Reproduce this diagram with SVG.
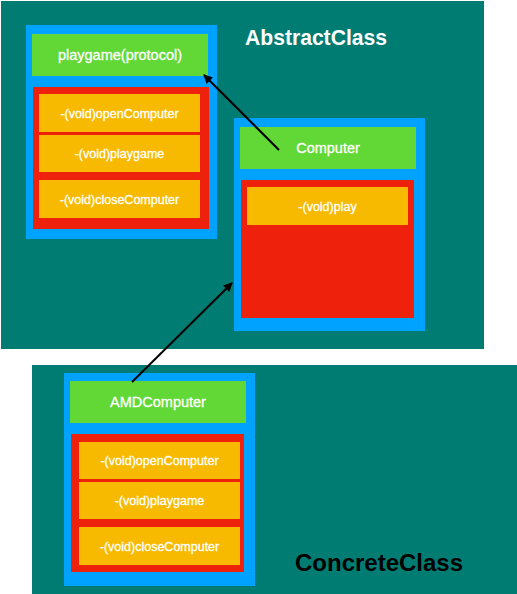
<svg xmlns="http://www.w3.org/2000/svg" width="517" height="594" viewBox="0 0 517 594">
<defs>
<style>
.bg{fill:#007C73}
.outer{fill:#00A2FF}
.head{fill:#61D836}
.body{fill:#EE220C}
.meth{fill:#F8BA00}
.ht{font-family:"Liberation Sans",Arial,sans-serif;font-size:14.5px;fill:#fff;stroke:#fff;stroke-width:0.3;text-anchor:middle}
.mt{font-family:"Liberation Sans",Arial,sans-serif;font-size:12.5px;fill:#fff;stroke:#fff;stroke-width:0.3;text-anchor:middle}
.title{font-family:"Liberation Sans",Arial,sans-serif;font-weight:bold}
.conn{stroke:#000;stroke-width:2;fill:none}
</style>
<marker id="arr" viewBox="0 0 10 10" refX="9" refY="5" markerWidth="11" markerHeight="9" markerUnits="userSpaceOnUse" orient="auto">
<path d="M0,0 L10,5 L0,10 z" fill="#000"/>
</marker>
</defs>
<rect width="517" height="594" fill="#fff"/>
<g id="abstract-region">
<rect class="bg" x="1" y="1" width="483" height="348"/>
<text class="title" x="245" y="45" font-size="22" fill="#fff" textLength="142" lengthAdjust="spacingAndGlyphs">AbstractClass</text>
</g>
<g id="concrete-region">
<rect class="bg" x="32" y="365" width="485" height="229"/>
<text class="title" x="295" y="571" font-size="24" fill="#000" textLength="168" lengthAdjust="spacingAndGlyphs">ConcreteClass</text>
</g>
<g id="playgame">
<rect class="outer" x="26" y="25" width="191" height="214"/>
<rect class="head" x="32" y="34" width="176" height="42"/>
<text class="ht" x="120" y="60">playgame(protocol)</text>
<rect class="body" x="33" y="87" width="176" height="142"/>
<rect class="meth" x="39" y="94" width="161" height="38"/>
<text class="mt" x="119.5" y="117.5">-(void)openComputer</text>
<rect class="meth" x="39" y="135" width="161" height="37"/>
<text class="mt" x="119.5" y="158">-(void)playgame</text>
<rect class="meth" x="39" y="180" width="161" height="38"/>
<text class="mt" x="119.5" y="203.5">-(void)closeComputer</text>
</g>
<g id="computer">
<rect class="outer" x="234" y="118" width="191" height="213"/>
<rect class="head" x="240" y="127" width="176" height="42"/>
<text class="ht" x="328" y="153">Computer</text>
<rect class="body" x="241" y="180" width="173" height="138"/>
<rect class="meth" x="247" y="187" width="161" height="38"/>
<text class="mt" x="327.5" y="210.5">-(void)play</text>
</g>
<g id="amdcomputer">
<rect class="outer" x="64" y="373" width="191" height="213"/>
<rect class="head" x="70" y="381" width="176" height="42"/>
<text class="ht" x="158" y="407">AMDComputer</text>
<rect class="body" x="71" y="434" width="173" height="138"/>
<rect class="meth" x="79" y="442" width="161" height="37"/>
<text class="mt" x="159.5" y="465">-(void)openComputer</text>
<rect class="meth" x="79" y="482" width="161" height="37"/>
<text class="mt" x="159.5" y="505">-(void)playgame</text>
<rect class="meth" x="79" y="527" width="161" height="38"/>
<text class="mt" x="159.5" y="550.5">-(void)closeComputer</text>
</g>
<g id="connectors">
<line class="conn" x1="279" y1="150" x2="204" y2="75" marker-end="url(#arr)"/>
<line class="conn" x1="132" y1="382" x2="232" y2="283" marker-end="url(#arr)"/>
</g>
</svg>
